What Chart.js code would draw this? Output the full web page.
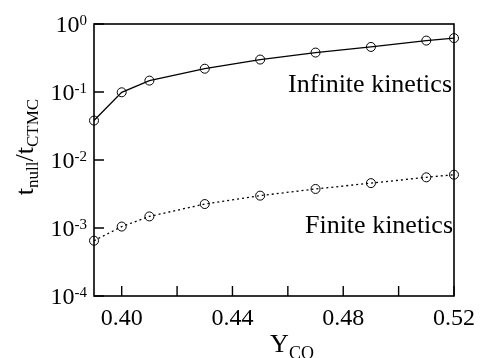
<!DOCTYPE html>
<html>
<head>
<meta charset="utf-8">
<script src="https://cdn.jsdelivr.net/npm/chart.js@4.4.0/dist/chart.umd.min.js"></script>
<style>
  body { margin: 0; background: #fff; }
  canvas { display: block; }
</style>
</head>
<body>
<canvas id="chart" width="483" height="358"></canvas>
<script>
// Y_CO values and the two ratio series
const yco = [0.39, 0.40, 0.41, 0.43, 0.45, 0.47, 0.49, 0.51, 0.52];
const infiniteRatio = [0.038, 0.099, 0.147, 0.22, 0.30, 0.38, 0.46, 0.57, 0.62];
const finiteRatio = [0.00065, 0.00105, 0.00148, 0.00225, 0.00299, 0.00375, 0.00457, 0.00556, 0.00608];

const xTicks = [0.40, 0.42, 0.44, 0.46, 0.48, 0.50, 0.52];
const xLabels = ["0.40", "0.44", "0.48", "0.52"];
const yTicks = [1, 0.1, 0.01, 0.001, 0.0001];
const yExponents = ["0", "-1", "-2", "-3", "-4"];

const serif = '"Liberation Serif", "Times New Roman", serif';

function toPoints(values) {
    return yco.map((x, i) => ({ x: x, y: values[i] }));
}

// frame, inward ticks, y labels with superscripts, axis titles, annotations
const decorations = {
    id: "decorations",
    afterDraw(chart) {
        const ctx = chart.ctx;
        const area = chart.chartArea;
        const xs = chart.scales.x;
        const ys = chart.scales.y;
        ctx.save();
        ctx.strokeStyle = "#000";
        ctx.lineWidth = 1.6;
        ctx.strokeRect(area.left, area.top, area.right - area.left, area.bottom - area.top);

        ctx.lineWidth = 1.4;
        ctx.beginPath();
        xTicks.forEach(v => {
            const px = xs.getPixelForValue(v);
            ctx.moveTo(px, area.bottom);
            ctx.lineTo(px, area.bottom - 10);
        });
        yTicks.forEach(v => {
            const py = ys.getPixelForValue(v);
            ctx.moveTo(area.left, py);
            ctx.lineTo(area.left + 10, py);
        });
        ctx.stroke();

        // y tick labels: 10^n
        ctx.fillStyle = "#000";
        ctx.textBaseline = "alphabetic";
        yTicks.forEach((v, i) => {
            const py = ys.getPixelForValue(v);
            ctx.font = "15px " + serif;
            const supW = ctx.measureText(yExponents[i]).width;
            const right = area.left - 7;
            ctx.textAlign = "left";
            ctx.fillText(yExponents[i], right - supW, py + 0.5);
            ctx.font = "24px " + serif;
            ctx.textAlign = "right";
            ctx.fillText("10", right - supW, py + 7.5);
        });

        // y axis title: t_null / t_CTMC
        ctx.save();
        ctx.translate(33, 147);
        ctx.rotate(-Math.PI / 2);
        const parts = [
            { t: "t", size: 26, dy: 0 },
            { t: "null", size: 17, dy: 5 },
            { t: "/t", size: 26, dy: 0 },
            { t: "CTMC", size: 17, dy: 5 }
        ];
        let total = 0;
        parts.forEach(p => {
            ctx.font = p.size + "px " + serif;
            p.w = ctx.measureText(p.t).width;
            total += p.w;
        });
        let cx = -total / 2;
        ctx.textAlign = "left";
        parts.forEach(p => {
            ctx.font = p.size + "px " + serif;
            ctx.fillText(p.t, cx, p.dy);
            cx += p.w;
        });
        ctx.restore();

        // x axis title: Y_CO
        ctx.font = "26px " + serif;
        const yW = ctx.measureText("Y").width;
        ctx.font = "18px " + serif;
        const coW = ctx.measureText("CO").width;
        let tx = 292 - (yW + coW) / 2;
        ctx.textAlign = "left";
        ctx.font = "26px " + serif;
        ctx.fillText("Y", tx, 352);
        ctx.font = "18px " + serif;
        ctx.fillText("CO", tx + yW, 359);

        // curve annotations
        ctx.font = "26px " + serif;
        ctx.textAlign = "right";
        ctx.fillText("Infinite kinetics", 452, 92);
        ctx.fillText("Finite kinetics", 453, 233);
        ctx.restore();
    }
};

new Chart(document.getElementById("chart"), {
    type: "line",
    data: {
        datasets: [
            {
                label: "Infinite kinetics",
                data: toPoints(infiniteRatio),
                borderColor: "#000",
                borderWidth: 1.3,
                pointRadius: 4.5,
                pointBorderWidth: 1,
                pointBorderColor: "#000",
                pointBackgroundColor: "rgba(0,0,0,0)",
                tension: 0,
                clip: false
            },
            {
                label: "Finite kinetics",
                data: toPoints(finiteRatio),
                borderColor: "#000",
                borderWidth: 1.3,
                borderDash: [2, 3],
                pointRadius: 4.5,
                pointBorderWidth: 1,
                pointBorderColor: "#000",
                pointBackgroundColor: "rgba(0,0,0,0)",
                tension: 0,
                clip: false
            }
        ]
    },
    options: {
        responsive: false,
        animation: false,
        layout: { padding: { left: 0, top: 24, right: 25, bottom: 0 } },
        plugins: {
            legend: { display: false },
            tooltip: { enabled: false }
        },
        scales: {
            x: {
                type: "linear",
                min: 0.39,
                max: 0.52,
                afterBuildTicks: s => { s.ticks = xTicks.map(v => ({ value: v })); },
                afterFit: s => { s.height = 62; },
                ticks: {
                    autoSkip: false,
                    maxRotation: 0,
                    padding: 8,
                    color: "#000",
                    font: { family: serif, size: 24 },
                    callback: v => {
                        const s = v.toFixed(2);
                        return xLabels.includes(s) ? s : "";
                    }
                },
                grid: { display: false, drawTicks: false },
                border: { display: false }
            },
            y: {
                type: "logarithmic",
                min: 0.0001,
                max: 1,
                afterFit: s => { s.width = 94; },
                ticks: { display: false },
                grid: { display: false, drawTicks: false },
                border: { display: false }
            }
        }
    },
    plugins: [decorations]
});
</script>
</body>
</html>
